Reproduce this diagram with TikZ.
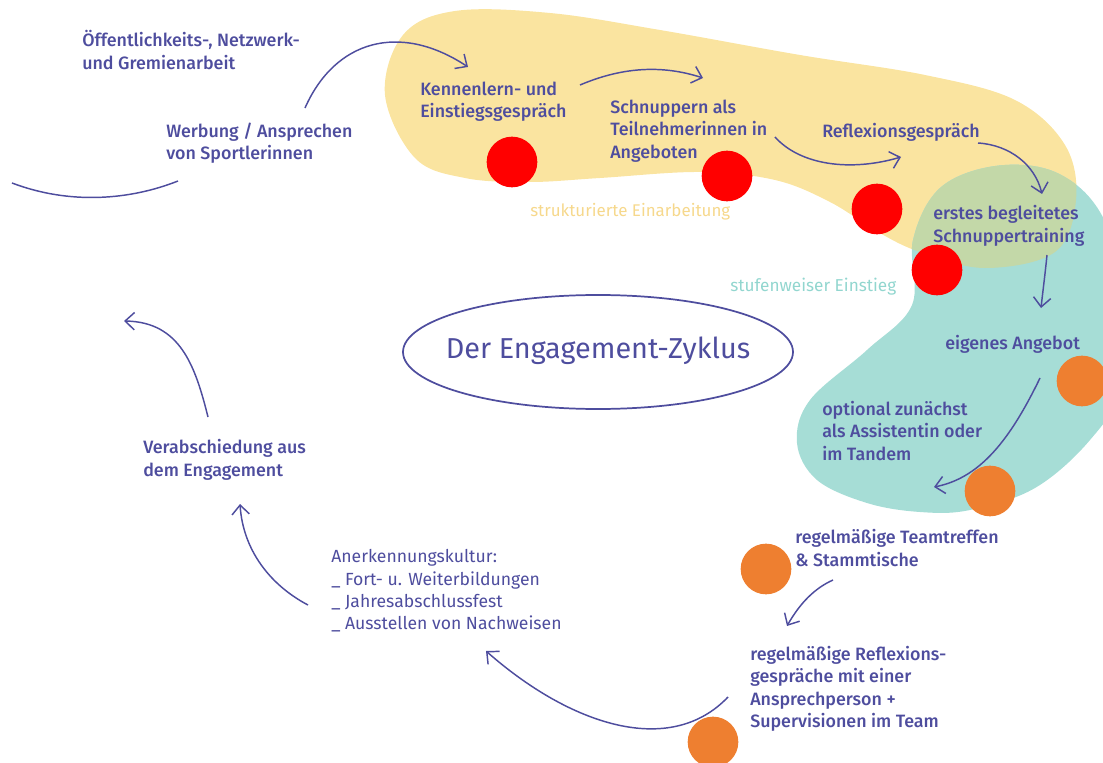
\documentclass[tikz,border=0pt]{standalone}
\usepackage{fontspec}
\IfFontExistsTF{Fira Sans Medium}{\setmainfont{Fira Sans Medium}}{\setmainfont{Fira Sans}}
\newfontfamily\lightfont{Fira Sans}
\usetikzlibrary{arrows.meta}
\definecolor{ink}{HTML}{4E4D9E}
\definecolor{yel}{HTML}{FAE4A0}
\definecolor{tea}{HTML}{A6DDD6}
\definecolor{ovl}{HTML}{C3D8A8}
\definecolor{dotred}{HTML}{FF0000}
\definecolor{dotorange}{HTML}{EE7F30}
\definecolor{yeltext}{HTML}{F6D88C}
\definecolor{teatext}{HTML}{92D6CF}
\tikzset{
  lbl/.style={anchor=west, inner sep=0pt, align=left, text=ink, font=\fontsize{13.4}{16.8}\selectfont},
  lbllight/.style={anchor=west, inner sep=0pt, align=left, text=ink, font=\lightfont\fontsize{13.2}{16.8}\selectfont},
  con/.style={draw=ink, line width=1.1pt, -{Straight Barb[length=7pt,width=13pt,line width=1.1pt]}},
  plain/.style={draw=ink, line width=1.1pt},
  reddot/.style={circle, fill=dotred, minimum size=38pt, inner sep=0pt},
  orangedot/.style={circle, fill=dotorange, minimum size=38pt, inner sep=0pt},
}
\begin{document}
\begin{tikzpicture}[x=0.75pt,y=-0.75pt]
\useasboundingbox (0,0) rectangle (1103,763);
\clip (0,0) rectangle (1103,763);
\def\yelpath{plot[smooth cycle, tension=0.6] coordinates {(385,95) (403,35) (455,11) (550,13) (660,30) (800,55) (925,75) (1015,100) (1065,145) (1076,200) (1055,252) (985,268) (920,252) (878,232) (830,202) (775,180) (700,172) (600,178) (530,182) (465,178) (415,158)}}
\def\teapath{plot[smooth cycle, tension=0.6] coordinates {(913,240) (940,188) (995,166) (1055,172) (1100,212) (1125,290) (1122,385) (1090,440) (1035,488) (970,510) (920,512) (867,503) (817,480) (797,443) (810,400) (867,350) (912,305)}}
\fill[yel] \yelpath;
\fill[tea] \teapath;
\begin{scope}
\clip \yelpath;
\fill[ovl] \teapath;
\end{scope}

% ellipse
\draw[ink, line width=1.3pt] (598,352) ellipse [x radius=195, y radius=57];
\node[text=ink, inner sep=0pt, font=\lightfont\fontsize{21.6}{24}\selectfont] (title) at (598,351) {Der Engagement-Zyklus};

% dots
\node[reddot] (r1) at (512,162) {};
\node[reddot] (r2) at (727,176) {};
\node[reddot] (r3) at (877,209) {};
\node[reddot] (r4) at (937,270) {};
\node[orangedot] (o1) at (1082,381) {};
\node[orangedot] (o2) at (990,491) {};
\node[orangedot] (o3) at (766,569) {};
\node[orangedot] (o4) at (713,742) {};

% labels
\node[lbl] (oeff) at (82,50) {Öffentlichkeits-, Netzwerk-\\und Gremienarbeit};
\node[lbl] (werb) at (166,143) {Werbung / Ansprechen\\von Sportlerinnen};
\node[lbl] (kenn) at (420,102) {Kennenlern- und\\Einstiegsgespräch};
\node[lbl] (schn) at (610,131) {Schnuppern als\\Teilnehmerinnen in\\Angeboten};
\node[lbl] (refl) at (822,132) {Reflexionsgespräch};
\node[lbl] (erst) at (933,226) {erstes begleitetes\\Schnuppertraining};
\node[lbl] (eig) at (945,344) {eigenes Angebot};
\node[lbl] (opt) at (822,431) {optional zunächst\\als Assistentin oder\\im Tandem};
\node[lbl] (team) at (795,548) {regelmäßige Teamtreffen\\\& Stammtische};
\node[lbl] (rgl) at (750,689) {regelmäßige Reflexions-\\gespräche mit einer\\Ansprechperson +\\Supervisionen im Team};
\node[lbllight] (anerk) at (331,591) {Anerkennungskultur:\\\_ Fort- u. Weiterbildungen\\\_ Jahresabschlussfest\\\_ Ausstellen von Nachweisen};
\node[lbl] (verab) at (143,460) {Verabschiedung aus\\dem Engagement};
\node[lbllight, text=yeltext, font=\lightfont\fontsize{12.7}{15}\selectfont] (struk) at (530,212) {strukturierte Einarbeitung};
\node[lbllight, text=teatext, font=\lightfont\fontsize{12.9}{15}\selectfont] (stuf) at (730,287) {stufenweiser Einstieg};

% arrow end points
\coordinate (a1s) at (305,108); \coordinate (a1e) at (468,67);
\coordinate (a2s) at (580,85);  \coordinate (a2e) at (703,78);
\coordinate (a3s) at (775,137); \coordinate (a3e) at (901,157);
\coordinate (a4s) at (978,143); \coordinate (a4e) at (1042,194);
\coordinate (a5s) at (1047,255); \coordinate (a5e) at (1041,308);
\coordinate (a6s) at (1040,378); \coordinate (a6e) at (934,487);
\coordinate (a7s) at (833,580); \coordinate (a7e) at (787,626);
\coordinate (a8s) at (728,697); \coordinate (a8e) at (486,651);
\coordinate (a9s) at (308,605); \coordinate (a9e) at (240,504);
\coordinate (a10s) at (208,417); \coordinate (a10e) at (124,321);
\coordinate (a11s) at (12,183); \coordinate (a11e) at (178,181);

\draw[con] (a1s) .. controls (335,40) and (400,22) .. (a1e);
\draw[con] (a2s) .. controls (620,68) and (660,64) .. (a2e);
\draw[con] (a3s) .. controls (800,165) and (850,172) .. (a3e);
\draw[con] (a4s) .. controls (1010,145) and (1035,165) .. (a4e);
\draw[con] (a5s) .. controls (1045,275) and (1043,290) .. (a5e);
\draw[con] (a6s) .. controls (1010,440) and (980,478) .. (a6e);
\draw[con] (a7s) .. controls (815,588) and (800,603) .. (a7e);
\draw[con] (a8s) .. controls (670,758) and (570,725) .. (a8e);
\draw[con] (a9s) .. controls (270,585) and (243,550) .. (a9e);
\draw[con] (a10s) .. controls (195,365) and (180,322) .. (a10e);
\draw[plain] (a11s) .. controls (70,205) and (130,200) .. (a11e);
\end{tikzpicture}
\end{document}
